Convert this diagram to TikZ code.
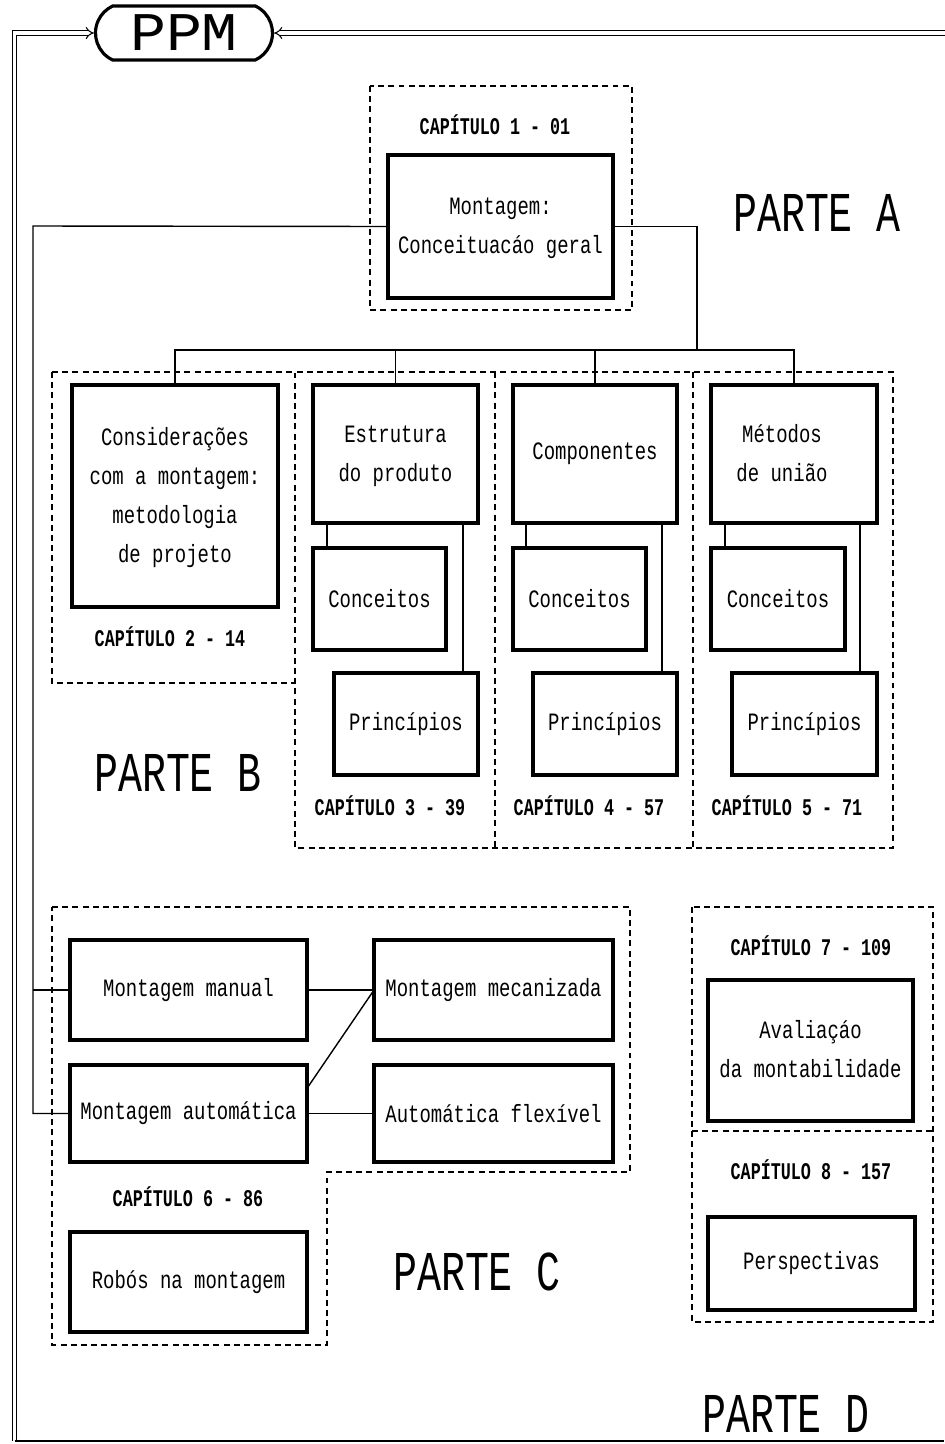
\documentclass[tikz,border=0pt]{standalone}
\usepackage{fontspec}
\usetikzlibrary{shapes.misc,arrows.meta}
\newfontfamily\dmfont[FakeStretch=0.76]{Liberation Mono}
\newfontfamily\dmbold[FakeStretch=0.7]{Liberation Mono}
\newfontfamily\dmbig[FakeStretch=0.71]{Liberation Mono}
\newfontfamily\dmwide[FakeStretch=1.1]{Liberation Mono}
\newcommand\normtxt{\dmfont\fontsize{14.2pt}{22.2pt}\selectfont}
\newcommand\chaptxt{\dmbold\bfseries\fontsize{13.6pt}{16pt}\selectfont}
\newcommand\partetxt{\dmbig\fontsize{32pt}{36pt}\selectfont}
\newcommand\ppmtxt{\dmwide\fontsize{31pt}{34pt}\selectfont}
\newlength\pxu \setlength\pxu{0.02cm}
% box: name, x1, y1, x2, y2, text
\newcommand\bx[6]{%
  \pgfmathsetmacro\bxcx{(#2+#4)/2}%
  \pgfmathsetmacro\bxcy{(#3+#5)/2}%
  \pgfmathsetmacro\bxw{#4-#2}%
  \pgfmathsetmacro\bxh{#5-#3}%
  \node[box, minimum width=\bxw\pxu, minimum height=\bxh\pxu] (#1) at (\bxcx,\bxcy) {#6};}
\newcommand\lines[1]{\begin{tabular}{@{}c@{}}#1\end{tabular}}
\begin{document}
\begin{tikzpicture}[x=0.02cm,y=-0.02cm,
  box/.style={draw, line width=1.9pt, inner sep=0pt, outer sep=0pt, font=\normtxt},
  conn/.style={line width=0.8pt},
  dbox/.style={line width=0.9pt, dash pattern=on 3.4pt off 2.4pt},
  chap/.style={font=\chaptxt, inner sep=0pt},
  parte/.style={font=\partetxt, inner sep=0pt},
  frameline/.style={double, double distance=1.8pt, line width=0.6pt}
]
\useasboundingbox (0,0) rectangle (944,1444);
\fill[white] (0,0) rectangle (944,1444);

% PPM title
\node[draw, line width=1.8pt, rounded rectangle, rounded rectangle arc length=130,
      minimum width=177\pxu, minimum height=54\pxu, inner sep=0pt, font=\ppmtxt] (ppm) at (184,33) {PPM};

% outer frame
\draw[frameline, -{Implies[length=5pt,width=9pt]}] (14.7,1441) -- (14.7,33) -- (ppm.west);
\draw[frameline, -{Implies[length=5pt,width=9pt]}] (948,33) -- (ppm.east);
\draw[line width=0.8pt] (14.7,1441) -- (944,1441);

% ---------- dashed chapter frames ----------
\draw[dbox] (370,86) rectangle (632,310);
\draw[dbox] (52,372) -- (893,372) -- (893,848) -- (295,848) -- (295,372);
\draw[dbox] (52,372) -- (52,683) -- (295,683);
\draw[dbox] (495,372) -- (495,848);
\draw[dbox] (693,372) -- (693,848);
\draw[dbox] (52,907) -- (630,907) -- (630,1172) -- (327,1172) -- (327,1345) -- (52,1345) -- cycle;
\draw[dbox] (692,907) rectangle (933,1322);
\draw[dbox] (692,1131) -- (933,1131);

% ---------- boxes ----------
\bx{m1}{388}{155}{613}{298}{\lines{Montagem:\\Conceituacáo geral}}
\bx{c2}{72}{385}{278}{607}{\lines{Considerações\\com a montagem:\\metodologia\\de projeto}}
\bx{c3}{313}{385}{478}{523}{\lines{Estrutura\\do produto}}
\bx{c3a}{313}{548}{446}{650}{Conceitos}
\bx{c3b}{334}{673}{478}{775}{Princípios}
\bx{c4}{513}{385}{677}{523}{Componentes}
\bx{c4a}{513}{548}{646}{650}{Conceitos}
\bx{c4b}{533}{673}{677}{775}{Princípios}
\bx{c5}{711}{385}{877}{523}{\lines{Métodos\\de união}\hspace*{24\pxu}}
\bx{c5a}{711}{548}{845}{650}{Conceitos}
\bx{c5b}{732}{673}{877}{775}{Princípios}
\bx{mman}{70}{940}{307}{1040}{Montagem manual}
\bx{mmec}{374}{940}{613}{1040}{Montagem mecanizada}
\bx{maut}{70}{1065}{307}{1162}{Montagem automática}
\bx{flex}{374}{1065}{613}{1162}{Automática flexível}
\bx{robo}{70}{1232}{307}{1332}{Robós na montagem}
\bx{aval}{708}{980}{913}{1121}{\lines{Avaliaçáo\\da montabilidade}}
\bx{persp}{708}{1217}{915}{1310}{Perspectivas}

% ---------- chapter labels ----------
\node[chap] (ch1) at (495,125) {CAPÍTULO 1 - 01};
\node[chap] (ch2) at (170,637) {CAPÍTULO 2 - 14};
\node[chap] (ch3) at (390,806) {CAPÍTULO 3 - 39};
\node[chap] (ch4) at (589,806) {CAPÍTULO 4 - 57};
\node[chap] (ch5) at (787,806) {CAPÍTULO 5 - 71};
\node[chap] (ch6) at (188,1197) {CAPÍTULO 6 - 86};
\node[chap] (ch7) at (811,946) {CAPÍTULO 7 - 109};
\node[chap] (ch8) at (811,1170) {CAPÍTULO 8 - 157};

% ---------- part labels ----------
\node[parte] (pa) at (817,213) {PARTE A};
\node[parte] (pb) at (178,773) {PARTE B};
\node[parte] (pc) at (477,1272) {PARTE C};
\node[parte] (pd) at (786,1414) {PARTE D};

% ---------- connectors ----------
\coordinate (J) at (697,350);
\coordinate (L) at (33,226);
\draw[conn] (m1.east) -| (J);
\draw[conn] (c2.north) -- (c2.north |- J) -- (c5.north |- J) -- (c5.north);
\draw[conn] (c3.north) -- (c3.north |- J);
\draw[conn] (c4.north) -- (c4.north |- J);
\draw[conn] (m1.west) -- (L) -- (L |- maut.west) -- (maut.west);
\draw[conn] (L |- mman.west) -- (mman.west);

\draw[conn] (c3a.north west) ++(14,0) coordinate (t1) -- (t1 |- c3.south);
\draw[conn] (c3b.north east) ++(-15,0) coordinate (t2) -- (t2 |- c3.south);
\draw[conn] (c4a.north west) ++(13,0) coordinate (t3) -- (t3 |- c4.south);
\draw[conn] (c4b.north east) ++(-15,0) coordinate (t4) -- (t4 |- c4.south);
\draw[conn] (c5a.north west) ++(14,0) coordinate (t5) -- (t5 |- c5.south);
\draw[conn] (c5b.north east) ++(-17,0) coordinate (t6) -- (t6 |- c5.south);

\draw[conn] (mman.east) -- (mmec.west);
\draw[conn] (maut.12) -- (mmec.west);
\draw[conn] (maut.east) -- (flex.west);
\end{tikzpicture}
\end{document}
